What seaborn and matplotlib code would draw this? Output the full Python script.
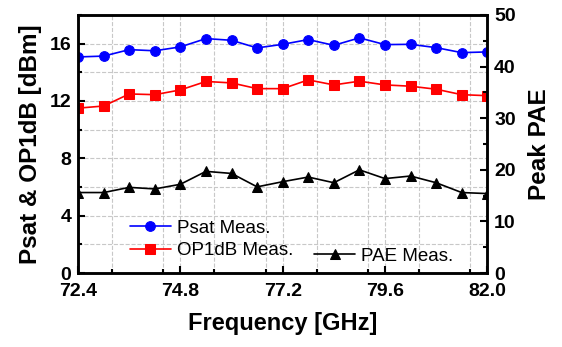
import numpy as np
import pandas as pd
import matplotlib
matplotlib.use('Agg')
import matplotlib.pyplot as plt
import seaborn as sns
from matplotlib.ticker import MultipleLocator

sns.set_style('ticks', {'xtick.direction': 'in', 'ytick.direction': 'in'})
plt.rcParams['font.family'] = ['Liberation Sans', 'DejaVu Sans']
plt.rcParams.update({'text.color': 'black', 'axes.labelcolor': 'black',
                     'xtick.color': 'black', 'ytick.color': 'black',
                     'axes.edgecolor': 'black'})

#::: data
freq = [72.4, 73.0, 73.6, 74.2, 74.8, 75.4, 76.0, 76.6, 77.2, 77.8,
        78.4, 79.0, 79.6, 80.2, 80.8, 81.4, 82.0]
psat = [15.07, 15.13, 15.58, 15.5, 15.77, 16.35, 16.23, 15.7, 15.95, 16.28,
        15.88, 16.4, 15.93, 15.95, 15.72, 15.37, 15.42]
op1db = [11.5, 11.65, 12.49, 12.44, 12.77, 13.36, 13.26, 12.86, 12.86, 13.47,
         13.12, 13.38, 13.12, 13.03, 12.82, 12.44, 12.37]
pae = [15.6, 15.6, 16.6, 16.3, 17.2, 19.7, 19.3, 16.7, 17.7, 18.6,
       17.5, 20.0, 18.3, 18.8, 17.5, 15.6, 15.4]
xticks = [72.4, 74.8, 77.2, 79.6, 82.0]

df = pd.DataFrame({'freq': freq, 'psat': psat, 'op1db': op1db, 'pae': pae})

fig = plt.figure(figsize=(5.62, 3.47), dpi=100)
ax = fig.add_axes([0.139, 0.213, 0.728, 0.744])
ax2 = ax.twinx()

sns.lineplot(data=df, x='freq', y='psat', ax=ax, color='#0000ff', marker='o',
             markersize=7, markeredgecolor='#0000ff', linewidth=1.2, label='Psat Meas.')
sns.lineplot(data=df, x='freq', y='op1db', ax=ax, color='#ff0000', marker='s',
             markersize=7, markeredgecolor='#ff0000', linewidth=1.2, label='OP1dB Meas.')
sns.lineplot(data=df, x='freq', y='pae', ax=ax2, color='black', marker='^',
             markersize=7.5, markeredgecolor='black', linewidth=1.2, label='PAE Meas.')

ax.set_xlim(72.4, 82.0)
ax.set_ylim(0, 18)
ax2.set_ylim(0, 50)
ax.set_xticks(xticks)
ax.set_xticklabels(['%.1f' % v for v in xticks])
ax.xaxis.set_minor_locator(MultipleLocator(1.2))
ax.set_yticks([0, 4, 8, 12, 16])
ax.yaxis.set_minor_locator(MultipleLocator(2))
ax2.set_yticks([0, 10, 20, 30, 40, 50])
ax2.yaxis.set_minor_locator(MultipleLocator(5))

ax.grid(True, which='both', color='#c8c8c8', linestyle='--', linewidth=0.8)
ax.set_axisbelow(True)

for a in (ax, ax2):
    for s in a.spines.values():
        s.set_linewidth(1.8)
        s.set_visible(True)
    a.tick_params(which='both', direction='in', width=1.5, labelsize=14)
    a.tick_params(which='major', length=5)
    a.tick_params(which='minor', length=3)
    for lab in a.get_xticklabels() + a.get_yticklabels():
        lab.set_fontweight('bold')
ax.tick_params(axis='x', pad=7)
ax.tick_params(axis='y', pad=5)
ax2.tick_params(axis='y', pad=5)

ax.set_xlabel('Frequency [GHz]', fontsize=17, fontweight='bold', labelpad=9)
ax.set_ylabel('Psat & OP1dB [dBm]', fontsize=17.5, fontweight='bold', labelpad=5)
ax2.set_ylabel('Peak PAE', fontsize=17.5, fontweight='bold', labelpad=9)

ax.legend(loc='center left', bbox_to_anchor=(0.085, 0.13), frameon=False,
          fontsize=13.5, handlelength=2.2, handletextpad=0.3, labelspacing=0.3)
ax2.legend(loc='center left', bbox_to_anchor=(0.535, 0.065), frameon=False,
           fontsize=13.5, handlelength=2.2, handletextpad=0.3)

fig.savefig('out.png', dpi=100)
